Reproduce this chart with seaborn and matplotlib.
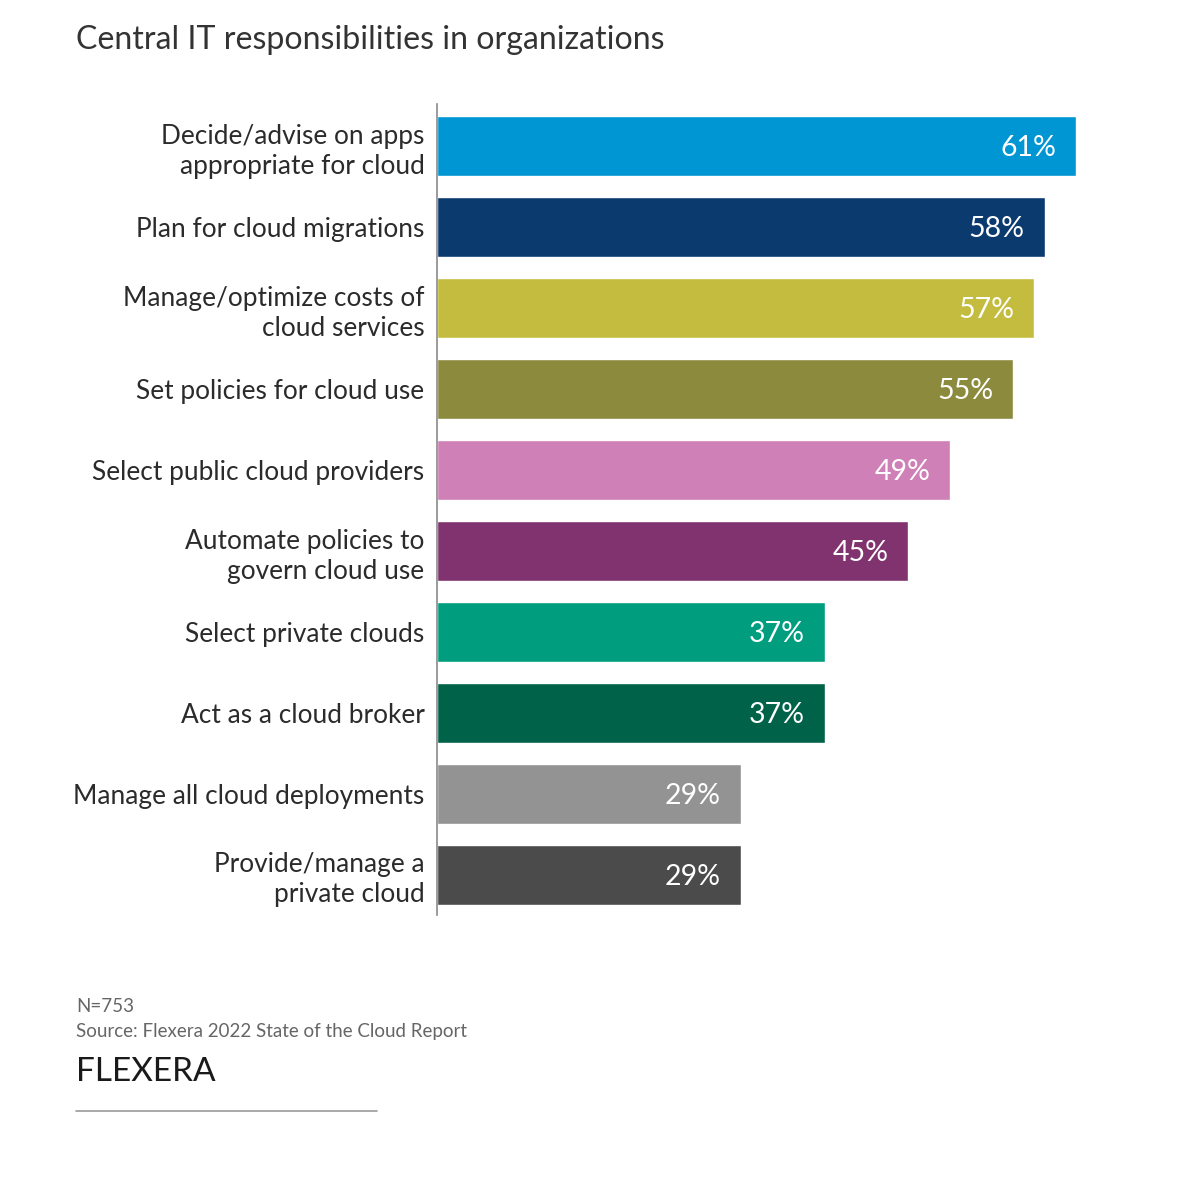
import matplotlib
matplotlib.use("Agg")
import matplotlib.pyplot as plt
import seaborn as sns
import pandas as pd
from matplotlib.lines import Line2D

categories = [
    "Decide/advise on apps\nappropriate for cloud",
    "Plan for cloud migrations",
    "Manage/optimize costs of\ncloud services",
    "Set policies for cloud use",
    "Select public cloud providers",
    "Automate policies to\ngovern cloud use",
    "Select private clouds",
    "Act as a cloud broker",
    "Manage all cloud deployments",
    "Provide/manage a\nprivate cloud",
]
values = [61, 58, 57, 55, 49, 45, 37, 37, 29, 29]
colors = ["#0095D3", "#0B3A6F", "#C4BC3E", "#8C8A3C", "#CF80B6",
          "#80336F", "#009E7F", "#006349", "#939393", "#4A4B4A"]

title = "Central IT responsibilities in organizations"
note = "N=753"
source = "Source: Flexera 2022 State of the Cloud Report"

sns.set_theme(style="white")
plt.rcParams["font.family"] = ["Lato", "DejaVu Sans"]

df = pd.DataFrame({"category": categories, "value": values})

W, H = 1200, 1182
fig = plt.figure(figsize=(W / 100, H / 100), dpi=100)
ax_left, ax_right = 437, 1110
ax_top, ax_bot = 104, 915
ax = fig.add_axes([ax_left / W, 1 - ax_bot / H, (ax_right - ax_left) / W, (ax_bot - ax_top) / H])

sns.barplot(data=df, x="value", y="category", hue="category", palette=colors,
            legend=False, orient="h", width=0.73, saturation=1, ax=ax)

px_per_unit = (1076 - 437) / 61.0
ax.set_xlim(0, (ax_right - ax_left) / px_per_unit)
ax.set_ylim(9.494, -0.519)

for i, v in enumerate(values):
    ax.annotate(f"{v}%", xy=(v, i), xytext=(-20, -2), textcoords="offset pixels",
                ha="right", va="center", color="white", fontsize=20.5)

ax.set_xlabel("")
ax.set_ylabel("")
ax.set_xticks([])
ax.tick_params(axis="y", length=0, pad=9, labelsize=18.9, labelcolor="#2b2b2b")
for lbl in ax.get_yticklabels():
    lbl.set_multialignment("right")
    lbl.set_linespacing(1.25)
for s in ["top", "right", "bottom"]:
    ax.spines[s].set_visible(False)
ax.spines["left"].set_color("#8a8a8a")
ax.spines["left"].set_linewidth(1.2)

fig.text(76 / W, 1 - 40 / H, title, ha="left", va="center", fontsize=23.1, color="#333333")
fig.text(76 / W, 1 - 1006 / H, note, ha="left", va="center", fontsize=13.5, color="#666666")
fig.text(76 / W, 1 - 1032 / H, source, ha="left", va="center", fontsize=13.5, color="#666666")
fig.text(76 / W, 1 - 1072 / H, "FLEXERA", ha="left", va="center", fontsize=24, color="#1a1a1a")
fig.add_artist(Line2D([76 / W, 377 / W], [1 - 1111 / H, 1 - 1111 / H], color="#9a9a9a", lw=1.2,
                      transform=fig.transFigure))

fig.savefig("out.png", dpi=100, facecolor="white")
